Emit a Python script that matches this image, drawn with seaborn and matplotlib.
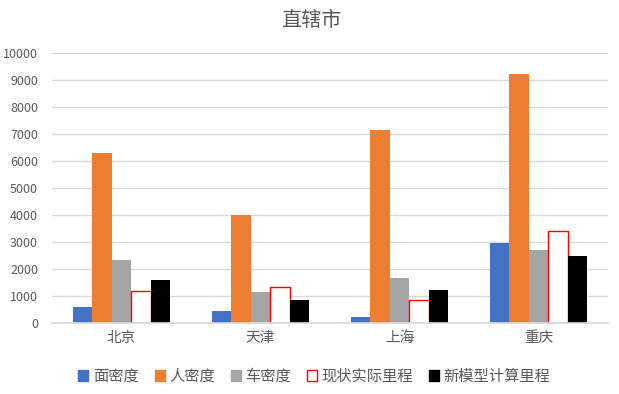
import matplotlib
matplotlib.use("Agg")
import matplotlib.pyplot as plt
import seaborn as sns
import pandas as pd
from matplotlib.patches import Patch

cities = ["北京", "天津", "上海", "重庆"]
series = ["面密度", "人密度", "车密度", "现状实际里程", "新模型计算里程"]
area_density = [600, 450, 220, 2970]
people_density = [6300, 4000, 7150, 9220]
car_density = [2330, 1150, 1670, 2700]
actual_mileage = [1190, 1320, 850, 3400]
model_mileage = [1600, 850, 1220, 2480]

face_colors = ["#4472C4", "#ED7D31", "#A5A5A5", "#FFFFFF", "#000000"]
edge_colors = ["#4472C4", "#ED7D31", "#A5A5A5", "#FF0000", "#000000"]

values = [area_density, people_density, car_density, actual_mileage, model_mileage]
rows = []
for name, vals in zip(series, values):
    for city, v in zip(cities, vals):
        rows.append({"city": city, "series": name, "value": v})
df = pd.DataFrame(rows)

sns.set_theme(style="white")
plt.rcParams["font.family"] = ["Noto Sans CJK SC", "DejaVu Sans"]
text_color = "#595959"

fig = plt.figure(figsize=(6.19, 3.94), dpi=100)
ax = fig.add_axes([0.084, 0.180, 0.898, 0.685])

sns.barplot(data=df, x="city", y="value", hue="series", hue_order=series,
            order=cities, palette=face_colors, width=0.7, gap=0,
            saturation=1, legend=False, ax=ax)

# colour the bars series by series (patches come in hue order)
for i, patch in enumerate(ax.patches[:len(series) * len(cities)]):
    s = i // len(cities)
    patch.set_facecolor(face_colors[s])
    patch.set_edgecolor(edge_colors[s])
    patch.set_linewidth(1.0 if s == 3 else 0)

ax.set_ylim(0, 10000)
ax.set_yticks(range(0, 10001, 1000))
ax.yaxis.grid(True, color="#D9D9D9", linewidth=1)
ax.set_axisbelow(True)
for side in ["top", "right", "left"]:
    ax.spines[side].set_visible(False)
ax.spines["bottom"].set_color("#D9D9D9")
ax.set_xlabel("")
ax.set_ylabel("")
ax.tick_params(axis="y", labelsize=9, colors=text_color, length=0, pad=10)
ax.tick_params(axis="x", labelsize=10.5, colors=text_color, length=0, pad=6)

fig.suptitle("直辖市", x=0.503, y=0.975, fontsize=14.5, color=text_color)

handles = [Patch(facecolor=fc, edgecolor=ec, linewidth=1.0)
           for fc, ec in zip(face_colors, edge_colors)]
fig.legend(handles, series, loc="center", bbox_to_anchor=(0.508, 0.045),
           ncol=5, frameon=False, fontsize=11, labelcolor=text_color,
           handlelength=0.65, handleheight=0.65, handletextpad=0.3,
           columnspacing=1.05)

fig.savefig("out.png", dpi=100)
